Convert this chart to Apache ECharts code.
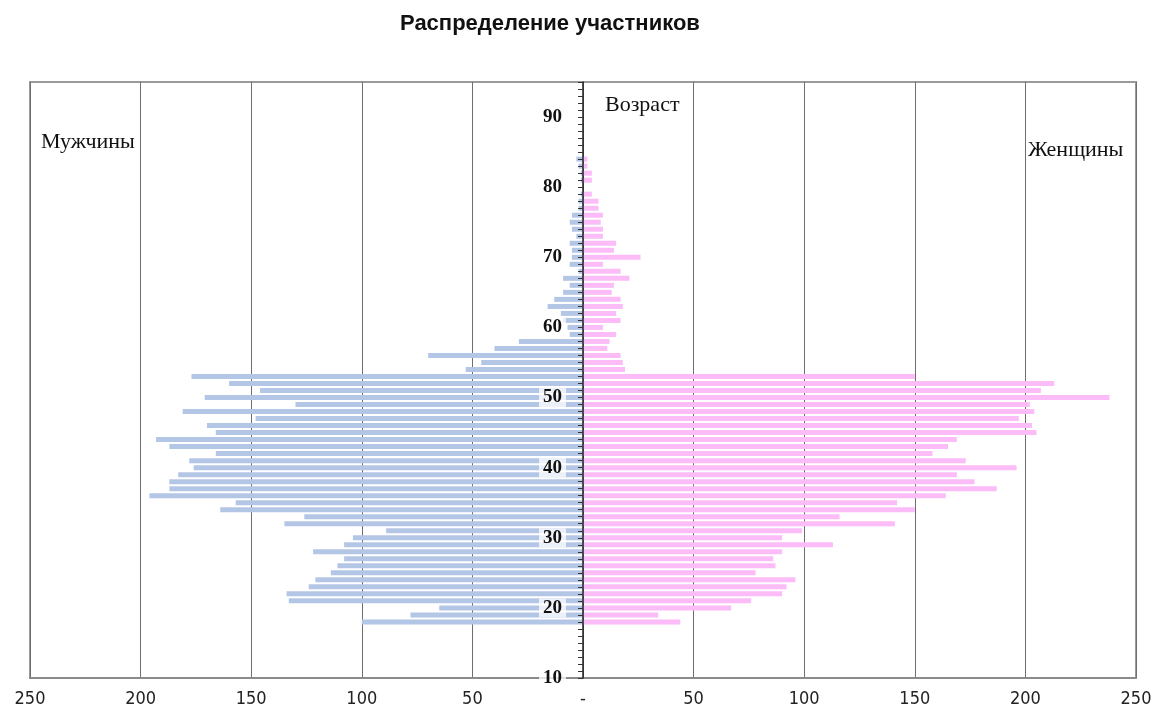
<!DOCTYPE html>
<html>
<head>
<meta charset="utf-8">
<script src="https://cdn.jsdelivr.net/npm/echarts@6/dist/echarts.min.js"></script>
<style>
html,body{margin:0;padding:0;background:#fff;}
#chart{width:1151px;height:708px;}
</style>
</head>
<body>
<div id="chart"></div>
<script>
// Ages that have bars
const ages = [18,19,20,21,22,23,24,25,26,27,28,29,30,31,32,33,34,35,36,37,38,39,40,41,42,43,44,45,46,47,48,49,50,51,52,53,54,55,56,57,58,59,60,61,62,63,64,65,66,67,68,69,70,71,72,73,74,75,76,77,78,79,80,81,82,83,84];
// Men (drawn to the left)
const men = [100,78,65,133,134,124,121,114,111,108,122,108,104,89,135,126,164,157,196,187,187,183,176,178,166,187,193,166,170,148,181,130,171,146,160,177,53,46,70,40,29,6,7,9,10,16,13,9,6,9,2,6,5,5,6,3,5,6,5,2,2,1,0,1,1,2,3];
// Women (drawn to the right)
const women = [44,34,67,76,90,92,96,78,87,86,90,113,90,99,141,116,150,142,164,187,177,169,196,173,158,165,169,205,203,197,204,202,238,207,213,150,19,18,17,11,12,15,9,17,15,18,17,13,14,21,17,9,26,14,15,9,9,8,9,7,7,4,0,4,4,2,2];
// Axis ranges / labels
const ageAxisMin = 10, ageAxisMax = 95;
const ageLabels = [10,20,30,40,50,60,70,80,90];

const categories = [];
for (let a = ageAxisMin; a <= ageAxisMax; a++) categories.push(String(a));
const menData = categories.map(c => { const i = ages.indexOf(+c); return i >= 0 ? -men[i] : null; });
const womenData = categories.map(c => { const i = ages.indexOf(+c); return i >= 0 ? women[i] : null; });

const gridLeft = 30, gridRight = 15;
const plotW = 1151 - gridLeft - gridRight;
const zeroX = gridLeft + plotW / 2;

const chart = echarts.init(document.getElementById('chart'), null, {renderer: 'canvas'});
chart.setOption({
  animation: false,
  backgroundColor: '#ffffff',
  grid: {left: gridLeft, right: gridRight, top: 82, bottom: 30, containLabel: false, outerBoundsMode: 'none',
         show: true, borderColor: '#9a9a9a', borderWidth: 2, backgroundColor: 'transparent'},
  graphic: [
    {type: 'text', left: 400, top: 13, style: {text: 'Распределение участников', font: 'bold 22px "Liberation Sans", Arial, sans-serif', fill: '#111'}},
    {type: 'text', left: 41, top: 131, style: {text: 'Мужчины', font: '22px "Liberation Serif", "Times New Roman", serif', fill: '#111'}},
    {type: 'text', left: 1028, top: 139, style: {text: 'Женщины', font: '22px "Liberation Serif", "Times New Roman", serif', fill: '#111'}},
    {type: 'text', left: 605, top: 94, style: {text: 'Возраст', font: '22px "Liberation Serif", "Times New Roman", serif', fill: '#111'}}
  ],
  xAxis: {
    type: 'value', min: -250, max: 250, interval: 50,
    axisLine: {show: true, onZero: false, lineStyle: {color: '#8a8a8a', width: 2}},
    axisTick: {show: false},
    splitLine: {show: true, lineStyle: {color: '#6e6e6e', width: 1}},
    axisLabel: {
      margin: 12, color: '#222', fontSize: 18,
      fontFamily: '"Liberation Sans Narrow", "DejaVu Sans Condensed", "Liberation Sans", sans-serif',
      formatter: v => v === 0 ? '-' : String(Math.abs(v))
    }
  },
  yAxis: {
    type: 'category', data: categories, boundaryGap: false, z: 10,
    axisLine: {show: true, onZero: true, lineStyle: {color: '#222', width: 1.5}},
    axisTick: {show: true, interval: 0, length: 5, lineStyle: {color: '#333', width: 1}},
    splitLine: {show: false},
    axisLabel: {
      interval: (idx, val) => ageLabels.indexOf(+val) >= 0,
      margin: -(zeroX - 17 - gridLeft), align: 'right', color: '#111', fontSize: 19, fontWeight: 'bold',
      fontFamily: '"Liberation Serif", "Times New Roman", serif',
      backgroundColor: 'rgba(255,255,255,0.75)', padding: [0, 4, 0, 4]
    }
  },
  series: [
    {name: 'Мужчины', type: 'bar', data: menData, barWidth: 5, barGap: '-100%', itemStyle: {color: '#b4c6e6'}},
    {name: 'Женщины', type: 'bar', data: womenData, barWidth: 5, barGap: '-100%', itemStyle: {color: '#fbbcf8'}}
  ]
});
</script>
</body>
</html>
